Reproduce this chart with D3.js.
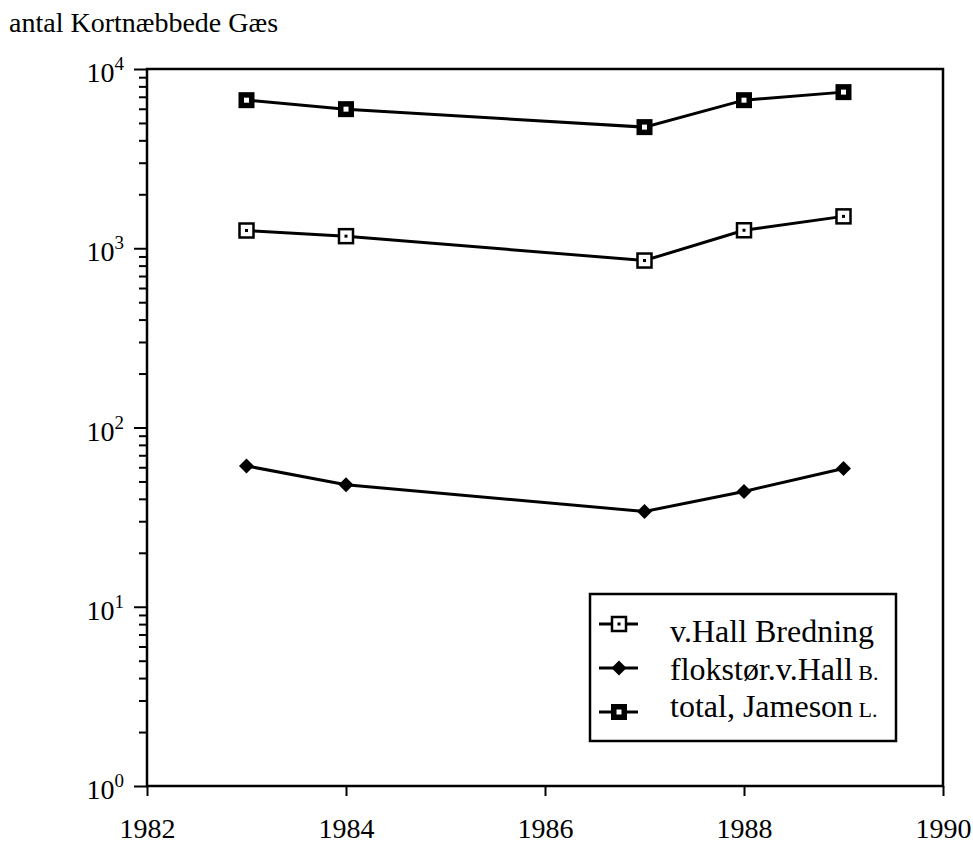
<!DOCTYPE html>
<html>
<head>
<meta charset="utf-8">
<script src="https://cdn.jsdelivr.net/npm/d3@7"></script>
<style>
	body { margin: 0; background: white; }
	svg { display: block; }
	svg text { font-family: "Liberation Serif", serif; }
</style>
</head>
<body>
<div id="chart"></div>
<script>
(function() {
	"use strict";

	var years = [1983, 1984, 1987, 1988, 1989];
	var vHall = [1256, 1168, 854, 1260, 1506];
	var flokstor = [61, 48, 34, 44, 59];
	var total = [6700, 5970, 4740, 6700, 7430];

	var seriesNames = ['v.Hall Bredning', 'flokstør.v.Hall', 'total, Jameson'];
	var seriesSuffix = ['', ' B.', ' L.'];
	var xTicks = [1982, 1984, 1986, 1988, 1990];
	var yExponents = [0, 1, 2, 3, 4];
	var title = 'antal Kortnæbbede Gæs';

	var WIDTH = 973, HEIGHT = 843;
	var LEFT = 147, RIGHT = 943, TOP = 69, BOTTOM = 786;

	var svg = d3.select('#chart').append('svg')
		.attr('width', WIDTH)
		.attr('height', HEIGHT);

	var x = d3.scaleLinear().domain([1982, 1990]).range([LEFT, RIGHT]);
	var y = d3.scaleLog().domain([1, 10000]).range([BOTTOM, TOP]);

	svg.append('text')
		.attr('x', 9)
		.attr('y', 32)
		.attr('font-size', 28)
		.text(title);

	// y axis: all 1..9 x 10^k ticks, decades longer
	var minorValues = [];
	yExponents.forEach(function (e) {
		if (e === 4) { minorValues.push(10000); return; }
		for (var m = 1; m < 10; m++) { minorValues.push(m * Math.pow(10, e)); }
	});

	var yAxis = svg.append('g')
		.attr('transform', 'translate(' + LEFT + ',0)')
		.call(d3.axisLeft(y).tickValues(minorValues).tickFormat('').tickSizeOuter(0));
	yAxis.select('.domain').remove();
	yAxis.selectAll('.tick line')
		.attr('stroke', 'black')
		.attr('stroke-width', 2)
		.attr('x2', function (d) {
			var isDecade = Math.abs(Math.log10(d) - Math.round(Math.log10(d))) < 1e-9;
			return isDecade ? -13 : -8;
		});

	var yLabels = svg.append('g').selectAll('text')
		.data(yExponents)
		.enter()
		.append('text')
		.attr('font-size', 28)
		.attr('text-anchor', 'end')
		.attr('x', 124)
		.attr('y', function (e) { return y(Math.pow(10, e)) + 13; });
	yLabels.append('tspan').text('10');
	yLabels.append('tspan')
		.attr('font-size', 19)
		.attr('dy', -12)
		.text(function (e) { return e; });

	// x axis
	var xAxis = svg.append('g')
		.attr('transform', 'translate(0,' + BOTTOM + ')')
		.call(d3.axisBottom(x).tickValues(xTicks).tickFormat(d3.format('d')).tickSize(10).tickSizeOuter(0))
		.attr('font-family', null);
	xAxis.select('.domain').remove();
	xAxis.selectAll('.tick line').attr('stroke', 'black').attr('stroke-width', 2);
	xAxis.selectAll('.tick text')
		.attr('font-size', 28)
		.attr('fill', 'black')
		.attr('y', 52)
		.attr('dy', 0);

	// frame
	svg.append('rect')
		.attr('x', LEFT)
		.attr('y', TOP)
		.attr('width', RIGHT - LEFT)
		.attr('height', BOTTOM - TOP)
		.attr('fill', 'none')
		.attr('stroke', 'black')
		.attr('stroke-width', 2.5);

	var series = [
		{ values: vHall, marker: 'open' },
		{ values: flokstor, marker: 'diamond' },
		{ values: total, marker: 'bold' }
	];

	var line = d3.line()
		.x(function (d) { return x(d.year); })
		.y(function (d) { return y(d.value); });

	function drawMarker(g, kind) {
		if (kind === 'open') {
			g.append('rect').attr('x', -7).attr('y', -7).attr('width', 14).attr('height', 14)
				.attr('fill', 'white').attr('stroke', 'black').attr('stroke-width', 2.5);
			g.append('rect').attr('x', -1.5).attr('y', -1.5).attr('width', 3).attr('height', 3).attr('fill', 'black');
		} else if (kind === 'diamond') {
			g.append('path').attr('d', 'M0,-7.5L7.5,0L0,7.5L-7.5,0Z').attr('fill', 'black');
		} else {
			g.append('rect').attr('x', -8).attr('y', -8).attr('width', 16).attr('height', 16).attr('fill', 'black');
			g.append('rect').attr('x', -2.5).attr('y', -2.5).attr('width', 5).attr('height', 5).attr('fill', 'white');
		}
	}

	series.forEach(function (s) {
		var points = years.map(function (yr, i) { return { year: yr, value: s.values[i] }; });
		svg.append('path')
			.datum(points)
			.attr('fill', 'none')
			.attr('stroke', 'black')
			.attr('stroke-width', 3)
			.attr('d', line);
		svg.append('g').selectAll('g')
			.data(points)
			.enter()
			.append('g')
			.attr('transform', function (d) { return 'translate(' + x(d.year) + ',' + y(d.value) + ')'; })
			.each(function () { drawMarker(d3.select(this), s.marker); });
	});

	// legend
	var legend = svg.append('g');
	legend.append('rect')
		.attr('x', 590).attr('y', 594).attr('width', 306).attr('height', 147)
		.attr('fill', 'white').attr('stroke', 'black').attr('stroke-width', 2.5);

	series.forEach(function (s, i) {
		var symY = 624 + i * 44;
		legend.append('line')
			.attr('x1', 599).attr('x2', 638).attr('y1', symY).attr('y2', symY)
			.attr('stroke', 'black').attr('stroke-width', 3);
		drawMarker(legend.append('g').attr('transform', 'translate(619,' + symY + ')'), s.marker);
		var t = legend.append('text')
			.attr('x', 670)
			.attr('y', 642 + i * 37.5)
			.attr('font-size', 32);
		t.append('tspan').text(seriesNames[i]);
		t.append('tspan').attr('font-size', 22).text(seriesSuffix[i]);
	});
}());
</script>
</body>
</html>
